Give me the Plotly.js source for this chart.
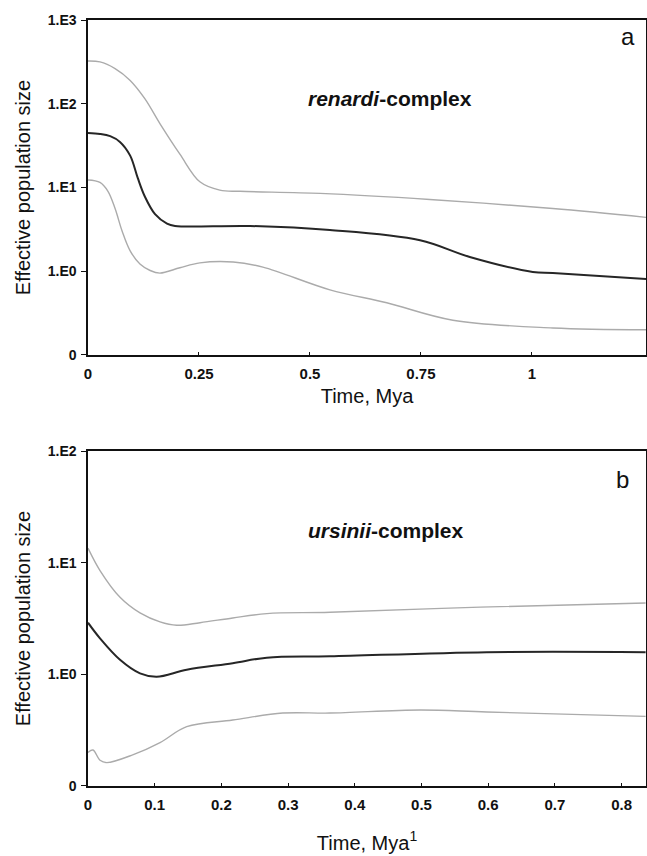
<!DOCTYPE html>
<html>
<head>
<meta charset="utf-8">
<script src="https://cdn.plot.ly/plotly-3.0.1.min.js"></script>
<style>
  html, body { margin: 0; padding: 0; background: #fff; }
  #chart { width: 647px; height: 856px; }
</style>
</head>
<body>
<div id="chart"></div>
<script>
// ---- Panel a: renardi-complex (time in Mya, effective population size) ----
const aUpperTime   = [0, 0.027, 0.061, 0.095, 0.128, 0.162, 0.207, 0.252, 0.297, 0.342, 0.523, 0.770, 1.047, 1.257];
const aUpperValue  = [324, 316, 263, 190, 115, 58, 25, 11.7, 9.3, 9.0, 8.5, 7.2, 5.6, 4.4];

const aMedianTime  = [0, 0.027, 0.050, 0.072, 0.095, 0.112, 0.128, 0.151, 0.178, 0.196, 0.365, 0.545, 0.748, 0.860, 1.002, 1.047, 1.257];
const aMedianValue = [44.7, 43.6, 41.0, 35, 24, 13, 7.8, 4.8, 3.7, 3.47, 3.47, 3.1, 2.34, 1.48, 0.98, 0.95, 0.81];

const aLowerTime   = [0, 0.027, 0.045, 0.061, 0.077, 0.095, 0.117, 0.140, 0.162, 0.207, 0.252, 0.327, 0.394, 0.545, 0.673, 0.822, 1.047, 1.257];
const aLowerValue  = [12.3, 11.5, 9.0, 5.6, 3.0, 1.75, 1.22, 1.02, 0.95, 1.1, 1.26, 1.29, 1.12, 0.60, 0.42, 0.26, 0.21, 0.20];

// ---- Panel b: ursinii-complex ----
const bUpperTime   = [0, 0.018, 0.048, 0.078, 0.108, 0.133, 0.168, 0.217, 0.268, 0.363, 0.588, 0.836];
const bUpperValue  = [13.5, 8.5, 4.9, 3.55, 2.95, 2.75, 2.9, 3.2, 3.5, 3.6, 4.0, 4.35];

const bMedianTime  = [0, 0.018, 0.048, 0.078, 0.103, 0.148, 0.217, 0.268, 0.363, 0.598, 0.836];
const bMedianValue = [2.9, 2.1, 1.35, 1.02, 0.95, 1.1, 1.26, 1.41, 1.45, 1.58, 1.58];

const bLowerTime   = [0, 0.0075, 0.018, 0.028, 0.067, 0.108, 0.148, 0.217, 0.292, 0.363, 0.498, 0.598, 0.836];
const bLowerValue  = [0.20, 0.21, 0.17, 0.162, 0.19, 0.245, 0.34, 0.39, 0.45, 0.45, 0.48, 0.46, 0.42];

// ---- Tick labels ----
const aYTickVals = [0.1, 1, 10, 100, 1000];
const aYTickText = ['0', '1.E0', '1.E1', '1.E2', '1.E3'];
const bYTickVals = [0.1, 1, 10, 100];
const bYTickText = ['0', '1.E0', '1.E1', '1.E2'];
const aXTickVals = [0, 0.25, 0.5, 0.75, 1];
const aXTickText = ['0', '0.25', '0.5', '0.75', '1'];
const bXTickVals = [0, 0.1, 0.2, 0.3, 0.4, 0.5, 0.6, 0.7, 0.8];
const bXTickText = ['0', '0.1', '0.2', '0.3', '0.4', '0.5', '0.6', '0.7', '0.8'];

const FONT = 'Liberation Sans, Arial, sans-serif';
const boundLine = {color: '#ababab', width: 1.4, shape: 'spline', smoothing: 1};
const medLine = {color: '#262626', width: 2, shape: 'spline', smoothing: 1};

const traces = [
  {x: aUpperTime, y: aUpperValue, mode: 'lines', line: boundLine, xaxis: 'x', yaxis: 'y', name: 'upper'},
  {x: aMedianTime, y: aMedianValue, mode: 'lines', line: medLine, xaxis: 'x', yaxis: 'y', name: 'median'},
  {x: aLowerTime, y: aLowerValue, mode: 'lines', line: boundLine, xaxis: 'x', yaxis: 'y', name: 'lower'},
  {x: bUpperTime, y: bUpperValue, mode: 'lines', line: boundLine, xaxis: 'x2', yaxis: 'y2', name: 'upper'},
  {x: bMedianTime, y: bMedianValue, mode: 'lines', line: medLine, xaxis: 'x2', yaxis: 'y2', name: 'median'},
  {x: bLowerTime, y: bLowerValue, mode: 'lines', line: boundLine, xaxis: 'x2', yaxis: 'y2', name: 'lower'}
];

const axisCommon = {
  showline: true, linecolor: '#111', linewidth: 1.6, mirror: true,
  showgrid: false, zeroline: false,
  tickcolor: '#111'
};
const xTickFont = {family: FONT, size: 15, color: '#111', weight: 'bold'};
const yTickFont = {family: FONT, size: 14, color: '#111', weight: 'bold'};
const titleFont = {family: FONT, size: 20, color: '#111'};

const layout = {
  width: 647, height: 856,
  margin: {l: 88, r: 1, t: 20, b: 70},
  paper_bgcolor: '#fff', plot_bgcolor: '#fff',
  showlegend: false,
  font: {family: FONT, color: '#111'},
  xaxis: Object.assign({}, axisCommon, {
    domain: [0, 1], anchor: 'y', range: [0, 1.257],
    tickvals: aXTickVals, ticktext: aXTickText, tickfont: xTickFont,
    ticks: 'inside', ticklen: 3, ticklabelstandoff: 4,
    title: {text: 'Time, Mya', font: titleFont, standoff: 8}
  }),
  yaxis: Object.assign({}, axisCommon, {
    domain: [0.5627, 1], anchor: 'x', type: 'log', range: [-1, 3],
    tickvals: aYTickVals, ticktext: aYTickText, tickfont: yTickFont,
    ticks: 'outside', ticklen: 5, ticklabelstandoff: 2,
    title: {text: 'Effective population size', font: titleFont, standoff: 12}
  }),
  xaxis2: Object.assign({}, axisCommon, {
    domain: [0, 1], anchor: 'y2', range: [0, 0.8366],
    tickvals: bXTickVals, ticktext: bXTickText, tickfont: xTickFont,
    ticks: 'inside', ticklen: 3, ticklabelstandoff: 4,
    title: {text: 'Time, Mya<sup>1</sup>', font: titleFont, standoff: 24}
  }),
  yaxis2: Object.assign({}, axisCommon, {
    domain: [0, 0.4373], anchor: 'x2', type: 'log', range: [-1, 2],
    tickvals: bYTickVals, ticktext: bYTickText, tickfont: yTickFont,
    ticks: 'outside', ticklen: 5, ticklabelstandoff: 2,
    title: {text: 'Effective population size', font: titleFont, standoff: 12}
  }),
  annotations: [
    {text: '<b><i>renardi</i>-complex</b>', xref: 'paper', yref: 'paper', x: 0.541, y: 0.897,
     xanchor: 'center', yanchor: 'middle', showarrow: false, font: {family: FONT, size: 21, color: '#111'}},
    {text: 'a', xref: 'paper', yref: 'paper', x: 0.968, y: 0.978,
     xanchor: 'center', yanchor: 'middle', showarrow: false, font: {family: FONT, size: 24, color: '#111'}},
    {text: '<b><i>ursinii</i>-complex</b>', xref: 'paper', yref: 'paper', x: 0.534, y: 0.334,
     xanchor: 'center', yanchor: 'middle', showarrow: false, font: {family: FONT, size: 21, color: '#111'}},
    {text: 'b', xref: 'paper', yref: 'paper', x: 0.958, y: 0.400,
     xanchor: 'center', yanchor: 'middle', showarrow: false, font: {family: FONT, size: 24, color: '#111'}}
  ]
};

Plotly.newPlot('chart', traces, layout, {staticPlot: true, displayModeBar: false});
</script>
</body>
</html>
